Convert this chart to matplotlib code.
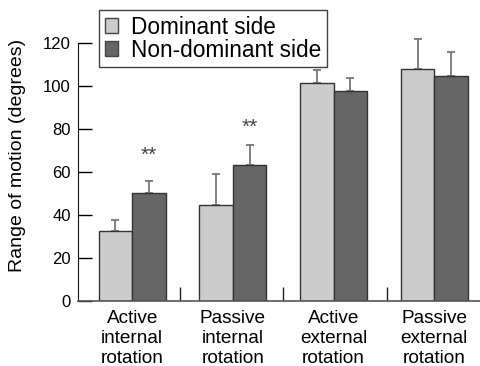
import matplotlib
matplotlib.use("Agg")
import matplotlib.pyplot as plt
from matplotlib.patches import Patch
from matplotlib.ticker import FixedLocator
import numpy as np

plt.rcParams['font.family'] = ['Liberation Sans', 'DejaVu Sans']

categories = ["Active\ninternal\nrotation", "Passive\ninternal\nrotation",
              "Active\nexternal\nrotation", "Passive\nexternal\nrotation"]
series_names = ["Dominant side", "Non-dominant side"]
dominant = [32.5, 44.6, 101.5, 108.0]
dominant_err = [5.0, 14.3, 6.0, 14.2]
nondominant = [50.1, 63.1, 97.8, 104.9]
nondominant_err = [5.8, 9.3, 6.0, 11.2]
star_labels = ["**", "**", "", ""]
star_y = [65.4, 78.1, None, None]
yticks = [0, 20, 40, 60, 80, 100, 120]

light = '#cccccc'
dark = '#666666'

fig = plt.figure(figsize=(4.81, 3.66), dpi=100)
ax = fig.add_axes([0.162, 0.1784, 0.838, 0.7033])

x = np.arange(len(categories))
w = 0.333
ax.bar(x - w / 2, dominant, w, color=light, edgecolor='#333333', linewidth=1.0, zorder=2)
ax.bar(x + w / 2, nondominant, w, color=dark, edgecolor='#333333', linewidth=1.0, zorder=2)
for xs, vals, errs in [(x - w / 2, dominant, dominant_err), (x + w / 2, nondominant, nondominant_err)]:
    eb = ax.errorbar(xs, vals, yerr=[np.zeros(4), errs], fmt='none',
                     ecolor='#777777', elinewidth=1.3, capsize=3, capthick=1.3, zorder=1)
    for c in eb[1]:
        c.set_color('#222222')
        c.set_clip_on(False)
    for lc in eb[2]:
        lc.set_clip_on(False)

for i, (s, sy) in enumerate(zip(star_labels, star_y)):
    if s:
        ax.text(x[i] + w / 2, sy, s, ha='center', va='baseline', fontsize=15, color='#444444')

ax.set_xlim(-0.539, 3.463)
ax.set_ylim(0, 120)
ax.set_yticks(yticks)
ax.set_xticks(x)
ax.set_xticklabels(categories, fontsize=13.7, linespacing=1.22)
ax.xaxis.set_minor_locator(FixedLocator([0.47, 1.5, 2.53]))
ax.tick_params(axis='x', which='major', length=0, pad=7)
ax.tick_params(axis='x', which='minor', length=10, direction='in', width=1, color='#222222')
ax.tick_params(axis='y', length=10, direction='in', width=1, labelsize=12, pad=5)

for s in ['top', 'right']:
    ax.spines[s].set_visible(False)
ax.spines['left'].set_color('#111111')
ax.spines['bottom'].set_color('#555555')
ax.spines['bottom'].set_linewidth(1.2)

ax.set_ylabel("Range of motion (degrees)", fontsize=14)
ax.yaxis.set_label_coords(-0.128, 0.563)

handles = [Patch(facecolor=light, edgecolor='#444444', linewidth=1.0),
           Patch(facecolor=dark, edgecolor='#444444', linewidth=1.0)]
leg = fig.legend(handles, series_names, loc='upper left', bbox_to_anchor=(99 / 481, 1 - 10 / 366),
                 fontsize=16.3, frameon=True, fancybox=False, edgecolor='#111111',
                 handlelength=0.6, handleheight=0.6, handletextpad=0.55, labelspacing=0.0,
                 borderpad=0.25, borderaxespad=0)
leg.get_frame().set_linewidth(1.0)

fig.savefig("out.png", dpi=100)
